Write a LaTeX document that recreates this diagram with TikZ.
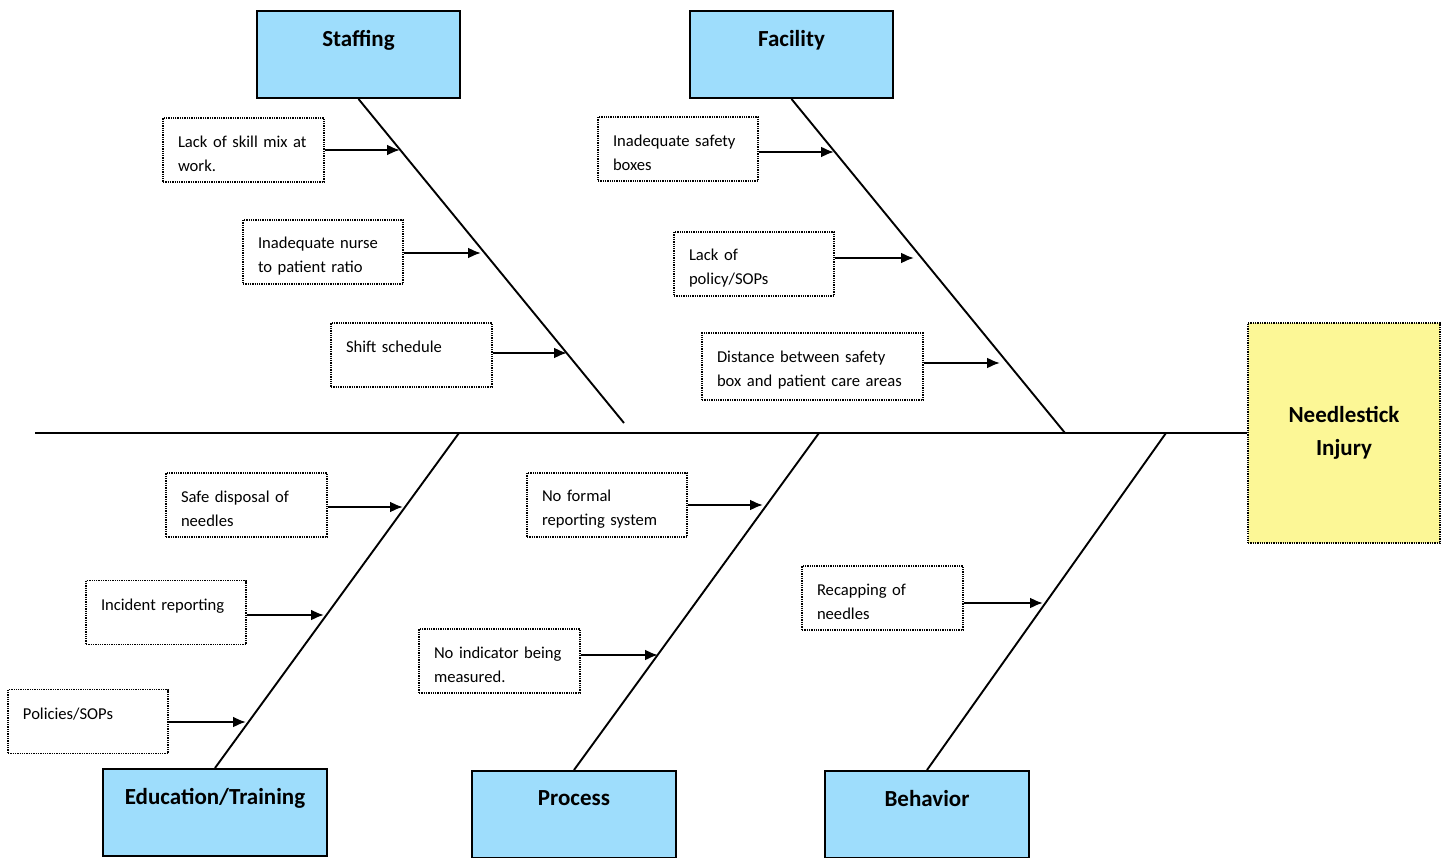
\documentclass[tikz,border=0pt]{standalone}
\usepackage{fontspec}
\setmainfont{Carlito}
\usetikzlibrary{arrows.meta}
\definecolor{catblue}{RGB}{158,221,252}
\definecolor{effyellow}{RGB}{252,247,150}
\newcommand{\firststrut}{\rule{0pt}{19pt}}
\begin{document}
\begin{tikzpicture}[x=1pt,y=-1pt,
  catbox/.style={draw, line width=2pt, fill=catblue, minimum height=87, inner sep=0},
  cattext/.style={font=\fontsize{23}{28}\selectfont\bfseries, anchor=north, inner sep=0},
  cause/.style={draw, densely dotted, line width=1.3pt, fill=white, align=left, inner xsep=15pt, inner ysep=0pt, minimum height=64, font=\fontsize{16.6}{24}\selectfont, execute at begin node=\firststrut},
  effbox/.style={draw, densely dotted, line width=1.3pt, fill=effyellow, minimum width=192, minimum height=220, align=center, font=\fontsize{23}{33}\selectfont\bfseries},
  bone/.style={line width=1.9pt},
  arr/.style={line width=2.2pt, -{Latex[length=13pt,width=11pt]}}]
\useasboundingbox (0,0) rectangle (1445,858);
% effect
\node[effbox] (eff) at (1344,433) {Needlestick\\Injury};
% category boxes
\node[catbox, minimum width=203] (staff) at (358.5,54.5) {};
\node[cattext] (stafft) at ([yshift=-20]staff.north) {Staffing};
\node[catbox, minimum width=203] (fac) at (791.5,54.5) {};
\node[cattext] (fact) at ([yshift=-20]fac.north) {Facility};
\node[catbox, minimum width=224] (edu) at (215,812.5) {};
\node[cattext] (edut) at ([yshift=-20]edu.north) {Education/Training};
\node[catbox, minimum width=204] (proc) at (574,814.5) {};
\node[cattext] (proct) at ([yshift=-20]proc.north) {Process};
\node[catbox, minimum width=204] (beh) at (927,814.5) {};
\node[cattext] (beht) at ([yshift=-20]beh.north) {Behavior};
% spine and bones
\coordinate (tail) at (35,433);
\coordinate (sb) at (624,423);
\coordinate (fb) at (1065,433);
\coordinate (eb) at (459,433);
\coordinate (pb) at (819,433);
\coordinate (bb) at (1166,433);
\draw[bone] (tail) -- (eff.west);
\draw[bone] (staff.south) -- (sb);
\draw[bone] (fac.south) -- (fb);
\draw[bone] (edu.north) -- (eb);
\draw[bone] (proc.north) -- (pb);
\draw[bone] (beh.north) -- (bb);
% causes
\node[cause, text width=131] (c1) at (243.5,150) {Lack of skill mix at\\work.};
\node[cause, text width=130] (c2) at (323,252) {Inadequate nurse\\to patient ratio};
\node[cause, text width=131] (c3) at (411.5,355) {Shift schedule\\\mbox{}};
\node[cause, text width=130] (c4) at (678,149) {Inadequate safety\\boxes};
\node[cause, text width=130] (c5) at (754,264) {Lack of\\policy/SOPs};
\node[cause, text width=191, minimum height=67] (c6) at (812.5,366.5) {Distance between safety\\box and patient care areas};
\node[cause, text width=131] (c7) at (246.5,505) {Safe disposal of\\needles};
\node[cause, text width=130] (c8) at (166,612.5) {Incident reporting\\\mbox{}};
\node[cause, text width=130] (c9) at (88,721.5) {Policies/SOPs\\\mbox{}};
\node[cause, text width=130] (c10) at (607,505) {No formal\\reporting system};
\node[cause, text width=131] (c11) at (499.5,661) {No indicator being\\measured.};
\node[cause, text width=131] (c12) at (882.5,598) {Recapping of\\needles};
% arrow targets
\coordinate (a1) at (400,150);
\coordinate (a2) at (481,253);
\coordinate (a3) at (567,353);
\coordinate (a4) at (834,152);
\coordinate (a5) at (914,258);
\coordinate (a6) at (1000,363);
\coordinate (a7) at (403,507);
\coordinate (a8) at (324,615);
\coordinate (a9) at (246,722);
\coordinate (a10) at (763,505);
\coordinate (a11) at (658,655);
\coordinate (a12) at (1043,603);
\foreach \i in {1,...,12}{
  \draw[arr] (c\i.east |- a\i) -- (a\i);
}
\end{tikzpicture}
\end{document}
